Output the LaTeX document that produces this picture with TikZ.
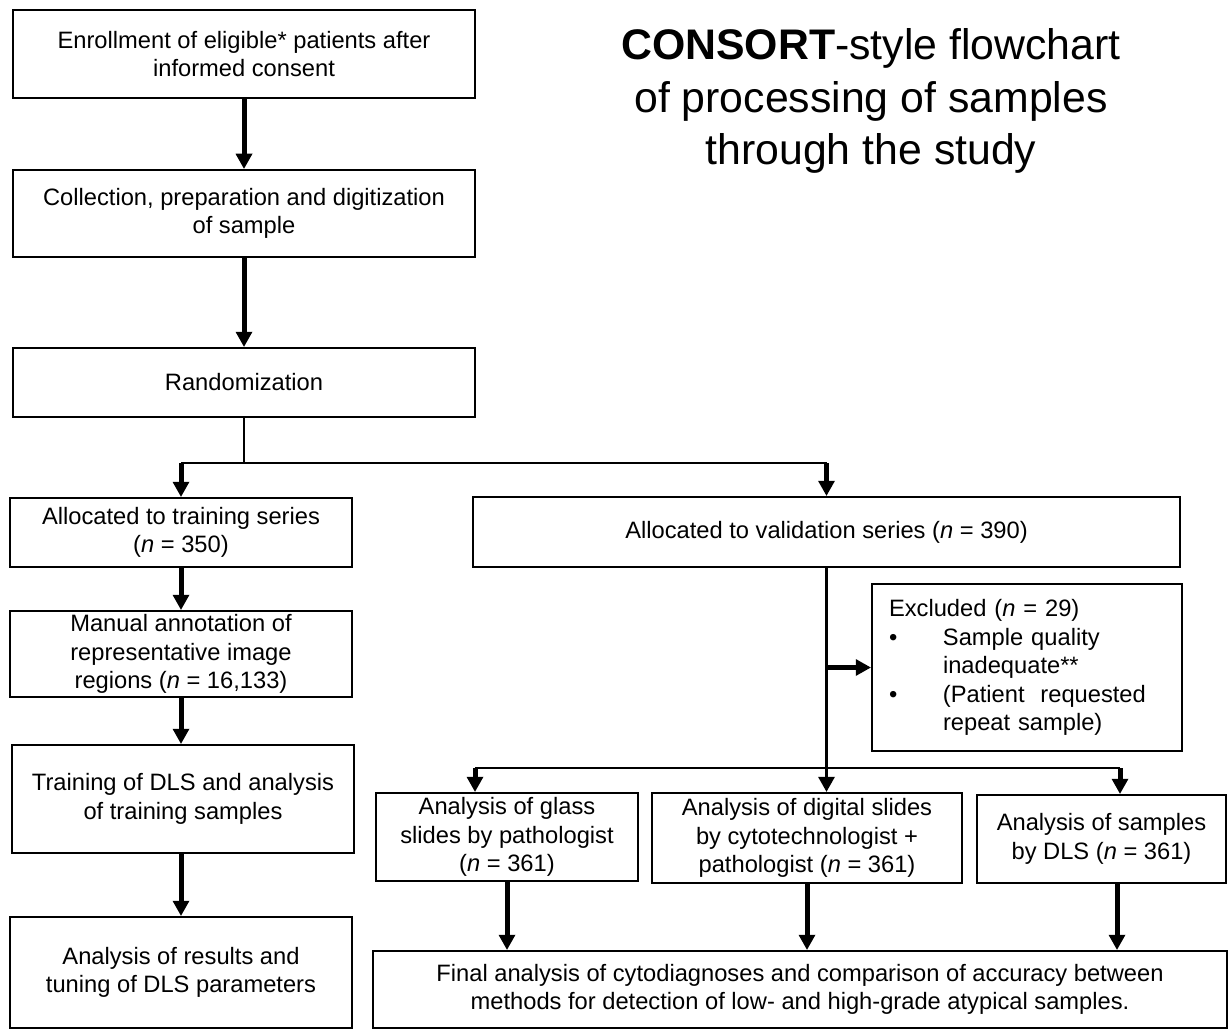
\documentclass[tikz,border=0pt]{standalone}
\usepackage{fontspec}
\setmainfont{Liberation Sans}
\usepackage{tikz}
\usetikzlibrary{arrows.meta,positioning,calc}

\begin{document}
\begin{tikzpicture}[x=1pt,y=-1pt,
    box/.style={draw,line width=2.5pt,align=center,inner sep=0pt,font=\fontsize{23.7}{28.5}\selectfont},
    heavy/.style={line width=5pt,-{Triangle[length=15pt,width=17pt,line width=0pt]}},
    light/.style={line width=2.2pt},
    lighttip/.style={line width=2.2pt,-{Triangle[length=15pt,width=17pt,line width=0pt]}}]
    \useasboundingbox (0,0) rectangle (1229,1030);

    % Title
    \node[font=\fontsize{42.8}{52.5}\selectfont,align=center] (title) at (871,101)
        {\textbf{CONSORT}-style flowchart\\of processing of samples\\through the study};

    % Common trunk
    \node[box,minimum width=462pt,minimum height=88pt] (enroll) at (244,54)
        {Enrollment of eligible* patients after\\informed consent};
    \node[box,minimum width=462pt,minimum height=87pt] (collect) at (244,213.5)
        {Collection, preparation and digitization\\of sample};
    \node[box,minimum width=462pt,minimum height=69pt] (random) at (244,382.5) {Randomization};

    % Training series
    \node[box,minimum width=342pt,minimum height=69pt] (train) at (181,532.5)
        {Allocated to training series\\(\textit{n} = 350)};
    \node[box,minimum width=342pt,minimum height=86pt] (annot) at (181,654)
        {Manual annotation of\\representative image\\regions (\textit{n} = 16,133)};
    \node[box,minimum width=342pt,minimum height=108pt] (dlstrain) at (183,799)
        {Training of DLS and analysis\\of training samples};
    \node[box,minimum width=342pt,minimum height=111pt] (results) at (181,972.5)
        {Analysis of results and\\tuning of DLS parameters};

    % Validation series
    \node[box,minimum width=707pt,minimum height=70pt] (valid) at (826.5,532)
        {Allocated to validation series (\textit{n} = 390)};
    \node[box,align=left,text width=276pt,minimum width=310pt,minimum height=167pt] (excl) at (1027,667.5)
        {Excluded (\textit{n} = 29)\\
         \makebox[54pt][l]{\textbullet}Sample quality\\
         \hspace*{54pt}inadequate**\\
         \makebox[54pt][l]{\textbullet}(Patient~ requested\\
         \hspace*{54pt}repeat sample)};
    \node[box,minimum width=262pt,minimum height=88pt] (glass) at (507,837)
        {Analysis of glass\\slides by pathologist\\(\textit{n} = 361)};
    \node[box,minimum width=310pt,minimum height=90pt] (digital) at (807,838)
        {Analysis of digital slides\\by cytotechnologist +\\pathologist (\textit{n} = 361)};
    \node[box,minimum width=249pt,minimum height=88pt] (dlsan) at (1101.5,839)
        {Analysis of samples\\by DLS (\textit{n} = 361)};
    \node[box,minimum width=854pt,minimum height=77pt] (final) at (800,989.5)
        {Final analysis of cytodiagnoses and comparison of accuracy between\\methods for detection of low- and high-grade atypical samples.};

    % Trunk arrows
    \draw[heavy] (enroll) -- (collect);
    \draw[heavy] (collect) -- (random);
    \draw[light] (random.south) -- ++(0,45) coordinate (split);
    \draw[light] (split -| train) -- (split -| valid);
    \draw[heavy] (split -| train) -- (train);
    \draw[heavy] (split -| valid) -- (valid);

    % Training arrows
    \draw[heavy] (train) -- (annot);
    \draw[heavy] (annot.south) -- (annot.south |- dlstrain.north);
    \draw[heavy] (dlstrain.south -| results) -- (results);

    % Validation arrows
    \draw[lighttip] (valid.south) -- (valid.south |- digital.north);
    \draw[heavy] (valid.south |- excl.west) -- (excl.west);
    \coordinate (forkl) at (475,768);
    \coordinate (forkr) at (1120,768);
    \draw[light] (forkl) -- (forkr);
    \draw[heavy] (forkl) -- (forkl |- glass.north);
    \draw[heavy] (forkr) -- (forkr |- dlsan.north);
    \draw[heavy] (glass.south) -- (glass.south |- final.north);
    \draw[heavy] (digital.south) -- (digital.south |- final.north);
    \draw[heavy] ([xshift=15.5pt]dlsan.south) -- ([xshift=15.5pt]dlsan.south |- final.north);
\end{tikzpicture}
\end{document}
